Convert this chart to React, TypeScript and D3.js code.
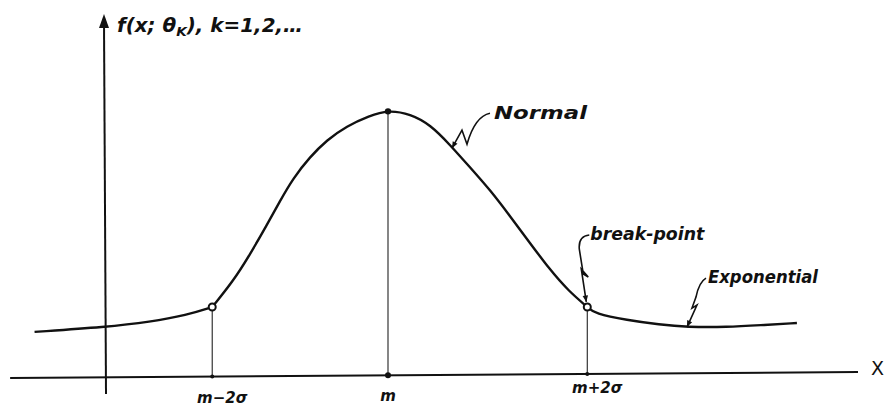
import * as d3 from "d3";

const W = 884;
const H = 410;

// x in sigma-like units measured from m, y as a share of the peak height
const leftTailX = [-3.76, -3.0, -2.53, -2.14, -1.87];
const leftTailY = [0.172, 0.19, 0.209, 0.235, 0.265];

const normalX = [-1.87, -1.65, -1.47, -1.29, -1.15, -1.01, -0.83, -0.65, -0.44, -0.2, 0, 0.24, 0.45, 0.66, 0.87, 1.09, 1.3, 1.51, 1.72, 1.92, 2.12];
const normalY = [0.265, 0.36, 0.46, 0.57, 0.66, 0.745, 0.825, 0.888, 0.94, 0.978, 1.0, 0.985, 0.945, 0.87, 0.787, 0.7, 0.603, 0.504, 0.405, 0.325, 0.265];

const rightTailX = [2.12, 2.2, 2.54, 2.89, 3.18, 3.61, 3.96, 4.35];
const rightTailY = [0.265, 0.24, 0.216, 0.199, 0.19, 0.19, 0.197, 0.205];

const tickValues = [-1.87, 0, 2.12];
const tickLabels = ["m−2σ", "m", "m+2σ"];
const tickHeights = [0.265, 1.0, 0.265];

const hand = "'DejaVu Sans', sans-serif";

export default function App() {
  const x = d3.scaleLinear().domain([0, 1]).range([388, 482]);
  const y = d3.scaleLinear().domain([0, 1]).range([378, 110]);

  const line = d3
    .line<[number, number]>()
    .x((d) => x(d[0]))
    .y((d) => y(d[1]))
    .curve(d3.curveBasis);

  const zip = (a: number[], b: number[]) => a.map((v, i) => [v, b[i]] as [number, number]);

  // hand drawn axis drifts up a little towards the right
  const x0 = x(-4.02);
  const x1 = x(5.0);
  const axisY = (px: number) => y(0) - (6 * (px - x0)) / (x1 - x0);
  const labelDy = [21, 21, 14];

  const yAxisX = x(-3.0);

  // annotation anchors on the curve
  const nx = x(0.67), ny = y(0.865);
  const bx = x(2.12), by = y(0.265);
  const ex = x(3.17), ey = y(0.19);

  const arrowHead = (tx: number, ty: number, ang: number) => {
    const s = 7;
    const a1 = ang + Math.PI - 0.4;
    const a2 = ang + Math.PI + 0.4;
    return `M${tx},${ty}L${tx + s * Math.cos(a1)},${ty + s * Math.sin(a1)}L${tx + s * Math.cos(a2)},${ty + s * Math.sin(a2)}Z`;
  };

  return (
    <svg width={W} height={H} style={{ position: "absolute", left: 0, top: 0, background: "#fff" }}>
      {/* axes */}
      <line x1={x0} y1={axisY(x0)} x2={x1} y2={axisY(x1)} stroke="#111" strokeWidth={2} />
      <line x1={yAxisX} y1={394} x2={yAxisX - 2} y2={22} stroke="#111" strokeWidth={2} />
      <path d={`M${yAxisX - 2},14 L${yAxisX - 7},28 L${yAxisX + 3},28 Z`} fill="#111" />
      <text x={871} y={375} fontFamily={hand} fontSize={19} fill="#111">X</text>

      {/* drop lines */}
      {tickValues.map((t, i) => (
        <line key={"v" + i} x1={x(t)} x2={x(t)} y1={y(tickHeights[i])} y2={axisY(x(t))} stroke="#222" strokeWidth={1.1} />
      ))}

      {/* curve */}
      <path d={line(zip(leftTailX, leftTailY)) || ""} fill="none" stroke="#111" strokeWidth={2.4} />
      <path d={line(zip(normalX, normalY)) || ""} fill="none" stroke="#111" strokeWidth={2.4} />
      <path d={line(zip(rightTailX, rightTailY)) || ""} fill="none" stroke="#111" strokeWidth={2.4} />

      {/* markers */}
      <circle cx={x(0)} cy={y(0.995)} r={3.2} fill="#111" />
      <circle cx={x(tickValues[0])} cy={y(tickHeights[0])} r={3.5} fill="#fff" stroke="#111" strokeWidth={2} />
      <circle cx={x(tickValues[2])} cy={y(tickHeights[2])} r={3.5} fill="#fff" stroke="#111" strokeWidth={2} />
      {tickValues.map((t, i) => (
        <circle key={"d" + i} cx={x(t)} cy={axisY(x(t))} r={i === 1 ? 3 : 2} fill="#111" />
      ))}

      {/* tick labels */}
      {tickLabels.map((lab, i) => (
        <text
          key={"t" + i}
          x={x(tickValues[i]) + (i === 1 ? 0 : 10)}
          y={axisY(x(tickValues[i])) + labelDy[i] + 5}
          textAnchor="middle"
          fontFamily={hand}
          fontStyle="italic"
          fontWeight="bold"
          fontSize={15}
          fill="#111"
        >
          {lab}
        </text>
      ))}

      {/* y label */}
      <text x={117} y={32} fontFamily={hand} fontStyle="italic" fontWeight="bold" fontSize={19} fill="#111" textLength={186} lengthAdjust="spacingAndGlyphs">
        f(x; θ<tspan fontSize={13} dy={4}>K</tspan><tspan dy={-4}>), k=1,2,…</tspan>
      </text>

      {/* Normal */}
      <path d={`M${nx + 39},${ny - 33} Q${nx + 24},${ny - 30} ${nx + 16},${ny - 2} L${nx + 11},${ny - 16} L${nx + 1},${ny + 2}`} fill="none" stroke="#111" strokeWidth={1.6} />
      <path d={arrowHead(nx + 1, ny + 2, Math.atan2(18, -10))} fill="#111" />
      <text x={nx + 43} y={ny - 27} fontFamily={hand} fontStyle="italic" fontWeight="bold" fontSize={17} fill="#111" textLength={93} lengthAdjust="spacingAndGlyphs">Normal</text>

      {/* break-point */}
      <path d={`M${bx + 2},${by - 72} Q${bx - 9},${by - 71} ${bx - 8},${by - 58} L${bx - 4},${by - 33} L${bx + 1},${by - 30} L${bx - 6},${by - 38} L${bx - 1},${by - 5}`} fill="none" stroke="#111" strokeWidth={1.6} />
      <path d={arrowHead(bx - 1, by - 5, Math.atan2(33, 5))} fill="#111" />
      <text x={bx + 3} y={by - 67} fontFamily={hand} fontStyle="italic" fontWeight="bold" fontSize={17} fill="#111" textLength={114} lengthAdjust="spacingAndGlyphs">break-point</text>

      {/* Exponential */}
      <path d={`M${ex + 20},${ey - 49} Q${ex + 13},${ey - 45} ${ex + 10},${ey - 30} L${ex + 6},${ey - 19} L${ex + 11},${ey - 22} L${ex + 1},${ey}`} fill="none" stroke="#111" strokeWidth={1.6} />
      <path d={arrowHead(ex + 1, ey, Math.atan2(22, -10))} fill="#111" />
      <text x={ex + 22} y={ey - 44} fontFamily={hand} fontStyle="italic" fontWeight="bold" fontSize={17} fill="#111" textLength={110} lengthAdjust="spacingAndGlyphs">Exponential</text>
    </svg>
  );
}
